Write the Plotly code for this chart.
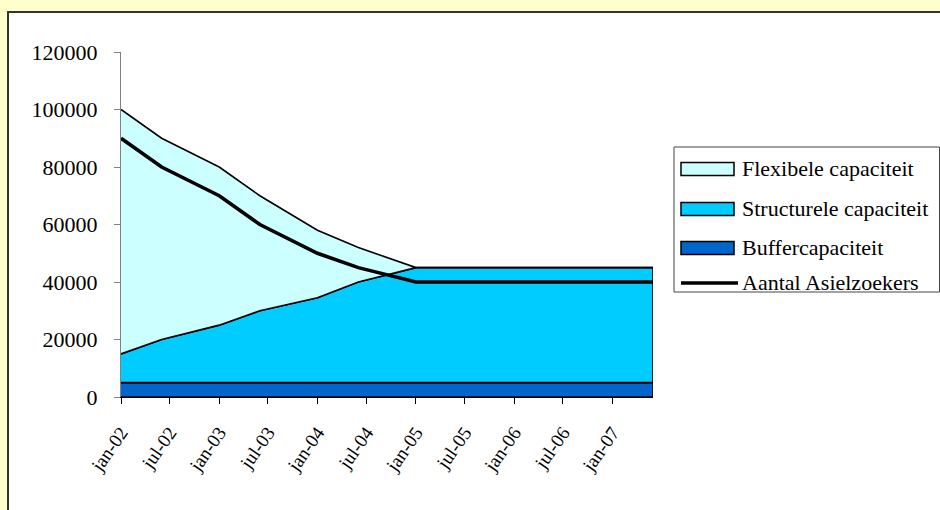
import numpy as np
import plotly.graph_objects as go

# Half-yearly observation dates (first of the month)
dates = ["2002-01-01", "2002-06-01", "2003-01-01", "2003-06-01", "2004-01-01", "2004-06-01",
         "2005-01-01", "2005-06-01", "2006-01-01", "2006-06-01", "2007-01-01", "2007-06-01"]

# Capacity components (stacked)
buffercapaciteit = [5000, 5000, 5000, 5000, 5000, 5000, 5000, 5000, 5000, 5000, 5000, 5000]
structurele_capaciteit = [10000, 15000, 20000, 25000, 29500, 35000, 40000, 40000, 40000, 40000, 40000, 40000]
flexibele_capaciteit = [85000, 70000, 55000, 40000, 23500, 12000, 0, 0, 0, 0, 0, 0]

# Number of asylum seekers
aantal_asielzoekers = [90000, 80000, 70000, 60000, 50000, 45000, 40000, 40000, 40000, 40000, 40000, 40000]

# Axis ticks
tick_dates = ["2002-01-01", "2002-07-01", "2003-01-01", "2003-07-01", "2004-01-01", "2004-07-01",
              "2005-01-01", "2005-07-01", "2006-01-01", "2006-07-01", "2007-01-01"]
tick_labels = ["jan-02", "jul-02", "jan-03", "jul-03", "jan-04", "jul-04",
               "jan-05", "jul-05", "jan-06", "jul-06", "jan-07"]

C_FLEX = "#CCFFFF"
C_STRUCT = "#00CCFF"
C_BUFFER = "#0066CC"
FONT = "Liberation Serif"

W, H = 940, 510
L, R, T, B = 121, 287, 52, 113
PW, PH = W - L - R, H - T - B


def px(x):
    return (x - L) / PW


def py(y):
    return (H - B - y) / PH


lvl0 = np.zeros(len(dates))
lvl1 = lvl0 + np.array(buffercapaciteit)
lvl2 = lvl1 + np.array(structurele_capaciteit)
lvl3 = lvl2 + np.array(flexibele_capaciteit)

fig = go.Figure()


def band(lower, upper, color, name):
    xs = dates + dates[::-1]
    ys = list(upper) + list(lower[::-1])
    fig.add_trace(go.Scatter(
        x=xs, y=ys, fill="toself", fillcolor=color, mode="lines",
        line=dict(color="black", width=1.6), name=name, showlegend=False,
        hoverinfo="skip"))


band(lvl0, lvl1, C_BUFFER, "Buffercapaciteit")
band(lvl1, lvl2, C_STRUCT, "Structurele capaciteit")
band(lvl2, lvl3, C_FLEX, "Flexibele capaciteit")

fig.add_trace(go.Scatter(
    x=dates, y=aantal_asielzoekers, mode="lines",
    line=dict(color="black", width=3.6), name="Aantal Asielzoekers",
    showlegend=False))

shapes = []
annotations = []

# White chart area with dark frame on a pale yellow page
shapes.append(dict(type="rect", xref="paper", yref="paper", layer="below",
                   x0=px(8), x1=px(W + 20), y0=py(H + 20), y1=py(12),
                   fillcolor="white", line=dict(color="#333333", width=2)))

# Legend box
shapes.append(dict(type="rect", xref="paper", yref="paper",
                   x0=px(674), x1=px(939.5), y0=py(292), y1=py(147),
                   fillcolor="white", line=dict(color="#444444", width=1)))

legend_rows = [
    ("Flexibele capaciteit", C_FLEX, 169),
    ("Structurele capaciteit", C_STRUCT, 209),
    ("Buffercapaciteit", C_BUFFER, 248),
]
for text, color, yc in legend_rows:
    shapes.append(dict(type="rect", xref="paper", yref="paper",
                       x0=px(681), x1=px(734), y0=py(yc + 6.5), y1=py(yc - 6.5),
                       fillcolor=color, line=dict(color="black", width=1.5)))
    annotations.append(dict(xref="paper", yref="paper", x=px(740), y=py(yc - 1),
                            xanchor="left", yanchor="middle", showarrow=False,
                            text=text, font=dict(family=FONT, size=22, color="black")))

shapes.append(dict(type="line", xref="paper", yref="paper",
                   x0=px(681), x1=px(738), y0=py(283), y1=py(283),
                   line=dict(color="black", width=3.5)))
annotations.append(dict(xref="paper", yref="paper", x=px(740), y=py(282),
                        xanchor="left", yanchor="middle", showarrow=False,
                        text="Aantal Asielzoekers",
                        font=dict(family=FONT, size=22, color="black")))

fig.update_layout(
    width=W, height=H,
    margin=dict(l=L, r=R, t=T, b=B, pad=0),
    paper_bgcolor="#FFFFCC",
    plot_bgcolor="rgba(0,0,0,0)",
    showlegend=False,
    shapes=shapes,
    annotations=annotations,
    font=dict(family=FONT, size=22, color="black"),
)

fig.update_xaxes(
    type="date", range=[dates[0], dates[-1]],
    tickmode="array", tickvals=tick_dates, ticktext=tick_labels,
    tickangle=-55, ticks="outside", ticklen=6, tickcolor="black",
    showline=True, linecolor="black", linewidth=1,
    showgrid=False, zeroline=False, layer="below traces",
    ticklabelstandoff=10,
    tickfont=dict(family=FONT, size=19, color="black"),
)
fig.update_yaxes(
    range=[0, 120000], dtick=20000, tickformat="d",
    ticks="outside", ticklen=6, tickcolor="#808080",
    showline=True, linecolor="#808080", linewidth=1,
    showgrid=False, zeroline=False, layer="below traces",
    ticklabelstandoff=12,
    tickfont=dict(family=FONT, size=22, color="black"),
)

fig.write_html("out.html")
